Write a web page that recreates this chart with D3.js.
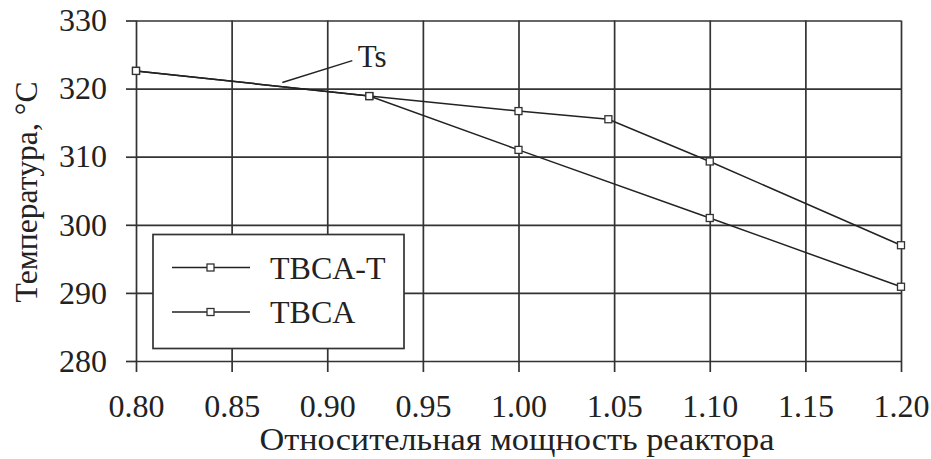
<!DOCTYPE html>
<html>
<head>
<meta charset="utf-8">
<script src="https://cdn.jsdelivr.net/npm/d3@7"></script>
<style>
  body { margin: 0; background: #fff; }
</style>
</head>
<body>
<svg width="931" height="459"></svg>
<script>
// данные
var xTicks = [0.80, 0.85, 0.90, 0.95, 1.00, 1.05, 1.10, 1.15, 1.20];
var yTicks = [280, 290, 300, 310, 320, 330];
var powerT = [0.80, 0.922, 1.00, 1.047, 1.10, 1.20];
var tempT  = [322.6, 318.9, 316.7, 315.5, 309.3, 297.0];
var power  = [0.80, 0.922, 1.00, 1.10, 1.20];
var temp   = [322.6, 318.9, 311.0, 301.0, 290.9];
var seriesNames = ["TBCA-T", "TBCA"];

var FONT = "'Liberation Serif'";

var svg = d3.select("svg");
var margin = {left: 136, top: 20.5, right: 30, bottom: 98};
var width = 931 - margin.left - margin.right,
    height = 459 - margin.top - margin.bottom;

var x = d3.scaleLinear().domain([0.8, 1.2]).range([0, width]);
var y = d3.scaleLinear().domain([280, 330]).range([height, 0]);

var g = svg.append("g").attr("transform", "translate(" + margin.left + "," + margin.top + ")");
var ink = "#333";

// сетка
g.append("g").attr("transform", "translate(0," + height + ")")
  .call(d3.axisBottom(x).tickValues(xTicks).tickSize(-height).tickFormat(""))
  .call(function (s) { s.select(".domain").remove(); });
g.append("g")
  .call(d3.axisLeft(y).tickValues(yTicks).tickSize(-width).tickFormat(""))
  .call(function (s) { s.select(".domain").remove(); });
g.selectAll(".tick line").attr("stroke", ink).attr("stroke-width", 1.7);

// оси
var xAxis = g.append("g").attr("transform", "translate(0," + height + ")")
  .call(d3.axisBottom(x).tickValues(xTicks).tickSize(11).tickPadding(22).tickFormat(d3.format(".2f")));
var yAxis = g.append("g")
  .call(d3.axisLeft(y).tickValues(yTicks).tickSize(10).tickPadding(19));
[xAxis, yAxis].forEach(function (a) {
  a.attr("font-family", null).attr("font-size", null);
  a.select(".domain").remove();
  a.selectAll("line").attr("stroke", ink).attr("stroke-width", 1.7);
  a.selectAll("text").style("font-family", FONT).style("font-size", "32px").style("fill", "#222");
});

// линии
var line = d3.line().x(function (d) { return x(d[0]); }).y(function (d) { return y(d[1]); });
var dataT = d3.zip(powerT, tempT), data = d3.zip(power, temp);

[data, dataT].forEach(function (d) {
  g.append("path").datum(d).attr("d", line)
    .attr("fill", "none").attr("stroke", "#222").attr("stroke-width", 1.5);
  g.selectAll(null).data(d).enter().append("rect")
    .attr("x", function (p) { return x(p[0]) - 3.5; })
    .attr("y", function (p) { return y(p[1]) - 3.5; })
    .attr("width", 7).attr("height", 7)
    .attr("fill", "#fff").attr("stroke", "#333").attr("stroke-width", 1.3);
});

// Ts
g.append("line")
  .attr("x1", x(0.8765)).attr("y1", y(320.9))
  .attr("x2", x(0.9131)).attr("y2", y(324.1))
  .attr("stroke", "#222").attr("stroke-width", 1.4);
g.append("text").attr("x", x(0.916)).attr("y", y(323.2))
  .style("font-family", FONT).style("font-size", "31px").style("fill", "#222").text("Ts");

// легенда
var lg = g.append("g").attr("transform", "translate(" + (x(0.8) + 17) + "," + (y(330) + 214) + ")");
lg.append("rect").attr("width", 251).attr("height", 114)
  .attr("fill", "#fff").attr("stroke", ink).attr("stroke-width", 1.7);
seriesNames.forEach(function (name, i) {
  var ly = 33 + i * 44.5;
  lg.append("line").attr("x1", 19).attr("x2", 97).attr("y1", ly).attr("y2", ly)
    .attr("stroke", "#222").attr("stroke-width", 1.5);
  lg.append("rect").attr("x", 54).attr("y", ly - 3.5).attr("width", 7).attr("height", 7)
    .attr("fill", "#fff").attr("stroke", "#333").attr("stroke-width", 1.3);
  lg.append("text").attr("x", 117).attr("y", ly).attr("dy", "0.35em")
    .style("font-family", FONT).style("font-size", "32px").style("fill", "#222").text(name);
});

// подписи осей
svg.append("text")
  .attr("x", 517).attr("y", 450)
  .attr("text-anchor", "middle")
  .attr("textLength", 515).attr("lengthAdjust", "spacingAndGlyphs")
  .style("font-family", FONT).style("font-size", "32px").style("fill", "#222")
  .text("Относительная мощность реактора");
svg.append("text")
  .attr("transform", "translate(37,192) rotate(-90)")
  .attr("text-anchor", "middle")
  .attr("textLength", 221).attr("lengthAdjust", "spacingAndGlyphs")
  .style("font-family", FONT).style("font-size", "32px").style("fill", "#222")
  .text("Температура, °C");
</script>
</body>
</html>
